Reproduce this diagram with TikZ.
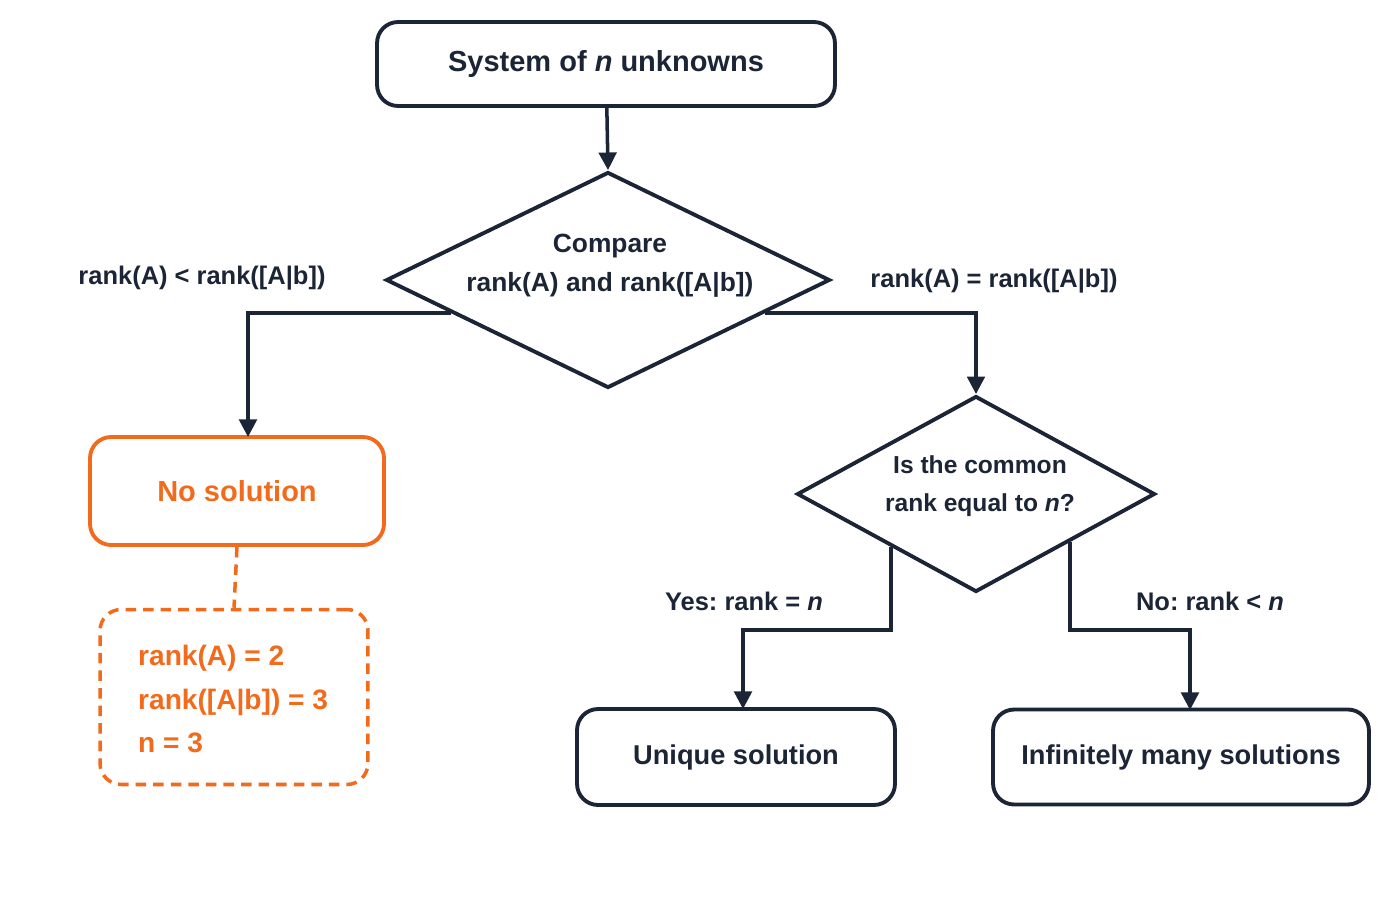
\documentclass[tikz,border=0pt]{standalone}
\usepackage{fontspec}
\setmainfont{Liberation Sans}
\frenchspacing
\usetikzlibrary{shapes.geometric, arrows.meta, positioning, calc}
\definecolor{navy}{HTML}{1B2536}
\definecolor{orng}{HTML}{F26A1B}
\tikzset{
  box/.style={draw=navy, line width=2.2pt, rounded corners=12pt, text=navy},
  obox/.style={draw=orng, line width=2.2pt, rounded corners=12pt, text=orng},
  dec/.style={draw=navy, line width=2.2pt, diamond, inner sep=0pt},
  lab/.style={text=navy, font=\fontsize{14.5}{18}\selectfont\bfseries},
  arr/.style={draw=navy, line width=2pt, -{Triangle[length=10pt,width=10pt]}}
}
\begin{document}
\begin{tikzpicture}[x=0.02cm, y=-0.02cm]
\useasboundingbox (0,0) rectangle (1400,900);
\node[box, minimum width=9.16cm, minimum height=1.68cm, font=\fontsize{16.5}{20}\selectfont\bfseries] (top) at (606,64) {System of \textit{n} unknowns};
\node[dec, minimum width=8.88cm, minimum height=4.32cm] (d1) at (608,280) {};
\node[lab, align=center, font=\fontsize{15}{22}\selectfont\bfseries] (d1t) at (610,266) {Compare\\rank(A) and rank([A|b])};
\node[lab] (ll) at (202,278) {rank(A) < rank([A|b])};
\node[lab] (rl) at (994,281) {rank(A) = rank([A|b])};
\node[obox, minimum width=5.88cm, minimum height=2.16cm, font=\fontsize{16.5}{20}\selectfont\bfseries] (nos) at (237,491) {No solution};
\node[draw=orng, line width=2pt, dashed, dash pattern=on 6pt off 4pt, rounded corners=12pt, minimum width=5.36cm, minimum height=3.5cm] (ex) at (234,697) {};
\node[text=orng, align=left, anchor=west, font=\fontsize{16}{25}\selectfont\bfseries] (ext) at (132,699) {rank(A) = 2\\rank([A|b]) = 3\\n = 3};
\node[dec, minimum width=7.16cm, minimum height=3.92cm] (d2) at (976,494) {};
\node[lab, align=center, font=\fontsize{14}{22}\selectfont\bfseries] (d2t) at (980,486) {Is the common\\rank equal to \textit{n}?};
\node[lab] (yl) at (744,601) {Yes: rank = \textit{n}};
\node[lab] (nl) at (1210,601) {No: rank < \textit{n}};
\node[box, minimum width=6.36cm, minimum height=1.92cm, font=\fontsize{15.5}{20}\selectfont\bfseries] (uni) at (736,757) {Unique solution};
\node[box, minimum width=7.52cm, minimum height=1.9cm, font=\fontsize{15.5}{20}\selectfont\bfseries] (inf) at (1181,757) {Infinitely many solutions};

\coordinate (ls) at ($(d1.west)!0.3!(d1.south)$);
\coordinate (rs) at ($(d1.east)!0.3!(d1.south)$);
\coordinate (ys) at ($(d2.south)!0.47!(d2.west)$);
\coordinate (ns) at ($(d2.south)!0.52!(d2.east)$);
\coordinate (nin) at (248,437);

\draw[arr] (top) -- (d1.north);
\draw[arr] (ls) -| (nin);
\draw[arr] (rs) -| (d2.north);
\draw[draw=orng, line width=2pt, dashed, dash pattern=on 6pt off 4pt] (nos.south) -- (ex.north);
\draw[arr] (ys) -- (ys |- 0,630) -| (743,709);
\draw[arr] (ns) -- (ns |- 0,630) -| (1190,710);
\end{tikzpicture}
\end{document}
